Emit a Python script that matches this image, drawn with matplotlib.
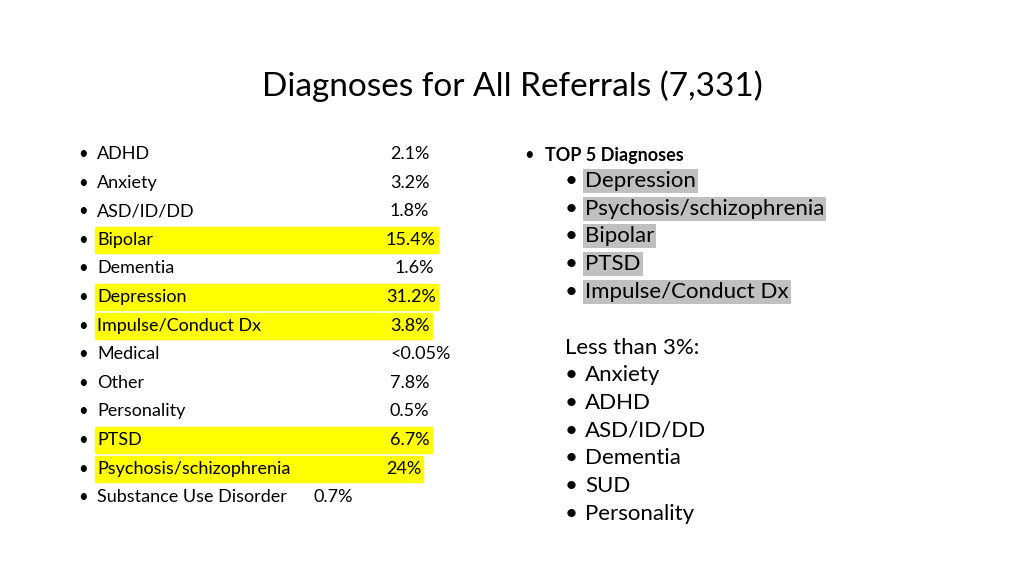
import matplotlib
matplotlib.use("Agg")
import matplotlib.pyplot as plt
from matplotlib.patches import Rectangle

title = "Diagnoses for All Referrals (7,331)"
left_labels = ["ADHD", "Anxiety", "ASD/ID/DD", "Bipolar", "Dementia", "Depression",
               "Impulse/Conduct Dx", "Medical", "Other", "Personality", "PTSD",
               "Psychosis/schizophrenia", "Substance Use Disorder"]
left_values = ["2.1%", "3.2%", "1.8%", "15.4%", "1.6%", "31.2%", "3.8%", "<0.05%",
               "7.8%", "0.5%", "6.7%", "24%", "0.7%"]
highlighted = [False, False, False, True, False, True, True, False, False, False, True, True, False]
top5_header = "TOP 5 Diagnoses"
top5 = ["Depression", "Psychosis/schizophrenia", "Bipolar", "PTSD", "Impulse/Conduct Dx"]
less_header = "Less than 3%:"
less_than_3 = ["Anxiety", "ADHD", "ASD/ID/DD", "Dementia", "SUD", "Personality"]

W, H = 1024, 576
fig = plt.figure(figsize=(W/100, H/100), dpi=100)
FONT = "Lato"
def P(x, y):
    return x / W, 1 - y / H

fig.text(*P(512, 86), title, ha="center", va="center", fontsize=24, family=FONT)

value_x = [390, 390, 390, 386, 395, 386, 390, 390, 390, 390, 390, 386, 313]
row_y = [154 + i * 28.6 for i in range(len(left_labels))]
val_texts = []
for lab, val, y, vx in zip(left_labels, left_values, row_y, value_x):
    fig.text(*P(78, y), "•", ha="left", va="center", fontsize=12, family=FONT)
    fig.text(*P(97, y), lab, ha="left", va="center", fontsize=13, family=FONT)
    val_texts.append(fig.text(*P(vx, y), val, ha="left", va="center", fontsize=13, family=FONT))

fig.canvas.draw()
r = fig.canvas.get_renderer()
for t, y, hl in zip(val_texts, row_y, highlighted):
    if hl:
        x1 = t.get_window_extent(r).x1 + 2
        fig.patches.append(Rectangle(P(95, y + 13), (x1 - 95) / W, 26 / H,
                                     transform=fig.transFigure, color="#ffff00", zorder=-1))

fig.text(*P(524, 155), "•", ha="left", va="center", fontsize=12, family=FONT)
fig.text(*P(545, 155), top5_header, ha="left", va="center", fontsize=13,
         family=FONT, fontweight="bold")
for i, item in enumerate(top5):
    y = 181 + i * 27.7
    fig.text(*P(565, y), "•", ha="left", va="center", fontsize=16, family=FONT)
    fig.text(*P(585, y), item, ha="left", va="center", fontsize=16, family=FONT,
             bbox=dict(facecolor="#c0c0c0", edgecolor="none", pad=1.5))

fig.text(*P(565, 348), less_header, ha="left", va="center", fontsize=16, family=FONT)
for i, item in enumerate(less_than_3):
    y = 375 + i * 27.8
    fig.text(*P(565, y), "•", ha="left", va="center", fontsize=16, family=FONT)
    fig.text(*P(585, y), item, ha="left", va="center", fontsize=16, family=FONT)

fig.savefig("out.png", dpi=100)
